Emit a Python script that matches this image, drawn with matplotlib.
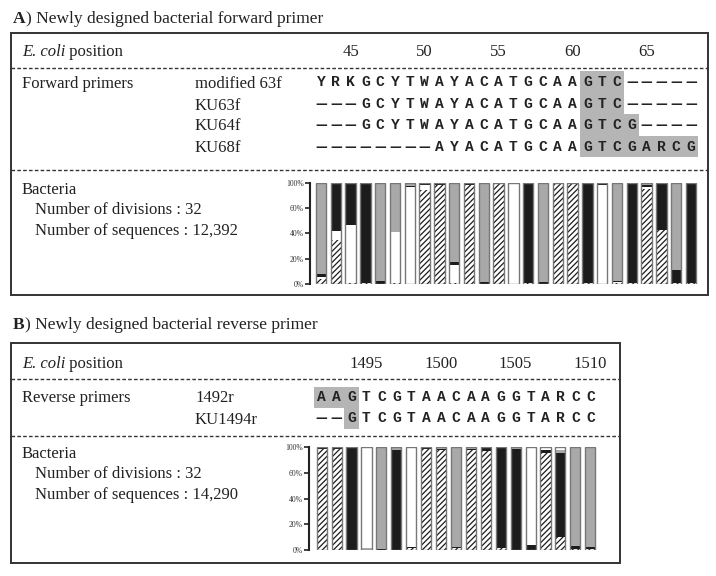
import matplotlib
matplotlib.use("Agg")
import matplotlib.pyplot as plt
from matplotlib import transforms
from matplotlib.patches import Rectangle

plt.rcParams["font.family"] = "Liberation Serif"
plt.rcParams["hatch.linewidth"] = 0.9

# ---- panel A data : forward primers ----
fwd_names = ["modified 63f", "KU63f", "KU64f", "KU68f"]
fwd_seqs = ["YRKGCYTWAYACATGCAAGTC-----",
            "---GCYTWAYACATGCAAGTC-----",
            "---GCYTWAYACATGCAAGTCG----",
            "--------AYACATGCAAGTCGARCG"]
fwd_shade = [(18, 20), (18, 20), (18, 21), (18, 25)]
fwd_first_pos = 43
fwd_ticks = [45, 50, 55, 60, 65]
fwd_divisions = 32
fwd_sequences = "12,392"

# base composition (% of sequences) at each position
fwd_A = [5, 43, 0.5, 1, 0, 0.5, 0, 93, 98, 0.5, 97.5, 0, 98.5, 0, 0.5, 0,
         99, 99.5, 0.5, 0, 0.5, 0.5, 93.5, 53, 1, 1]
fwd_T = [2, 9, 58, 0, 0, 51, 96, 5, 0, 18.5, 0, 0, 0, 99.5, 0, 0,
         0, 0, 0, 98, 1, 0, 2, 0, 0, 0]
fwd_G = [2.5, 46.5, 41, 99, 3, 0, 0.7, 2, 1.5, 2.5, 1.5, 2, 1.5, 0.5, 99.5, 1.5,
         0, 0, 99.5, 1.5, 1, 99.5, 2.5, 47, 13, 99]
fwd_C = [90.5, 1.5, 0.5, 0, 97, 48.5, 3.3, 0, 0.5, 78.5, 1, 98, 0, 0, 0, 98.5,
         1, 0.5, 0, 0.5, 97.5, 0, 2, 0, 86, 0]

# ---- panel B data : reverse primers ----
rev_names = ["1492r", "KU1494r"]
rev_seqs = ["AAGTCGTAACAAGGTARCC",
            "--GTCGTAACAAGGTARCC"]
rev_shade = [(0, 2), (2, 2)]
rev_first_pos = 1492
rev_ticks = [1495, 1500, 1505, 1510]
rev_divisions = 32
rev_sequences = "14,290"

rev_A = [98.5, 98, 0, 0, 0, 0, 1.5, 98, 97, 1.5, 97, 96.5, 1.5, 0, 0, 94.5, 13, 1, 1]
rev_G = [0.5, 1.5, 99, 0, 1, 97.5, 1.5, 1.5, 1, 1.5, 1.5, 3.5, 98.5, 98, 4.5, 3, 81.5, 2.5, 1.5]
rev_C = [1, 0.5, 1, 1.5, 98, 2.5, 0, 0.5, 1.5, 97, 1.5, 0, 0, 2, 0, 0, 3, 96.5, 96.5]
rev_T = [0, 0, 0, 98.5, 1, 0, 97, 0, 0.5, 0, 0, 0, 0, 0, 95.5, 2.5, 2.5, 0, 1]

pct_ticks = [0, 25, 50, 75, 100]
pct_labels = ["0%", "20%", "40%", "60%", "100%"]

# colours / styles per base
GRAY = "#a9a9a9"
BLACK = "#1c1c1c"
INK = "#222222"
base_style = {"A": ("white", "//////"), "T": ("white", None),
              "G": (BLACK, None), "C": (GRAY, None)}

W, H = 716, 576
fig = plt.figure(figsize=(W / 100, H / 100), dpi=100)
ax0 = fig.add_axes([0, 0, 1, 1])
ax0.set_xlim(0, W)
ax0.set_ylim(H, 0)
ax0.axis("off")


def pix_axes(left, top, right, bottom):
    return fig.add_axes([left / W, 1 - bottom / H, (right - left) / W, (bottom - top) / H])


def bar_panel(ax, stacks, x0, step, width):
    n = len(stacks[0][1])
    left, right = ax.get_position().x0 * W, ax.get_position().x1 * W
    ax.set_xlim((left - x0) / step, (right - x0) / step)
    ax.set_ylim(0, 100)
    xs = list(range(n))
    bottom = [0] * n
    for base, vals in stacks:
        face, hatch = base_style[base]
        ax.bar(xs, vals, width, bottom=bottom, color=face, edgecolor=BLACK,
               linewidth=0, hatch=hatch)
        bottom = [b + v for b, v in zip(bottom, vals)]
    ax.bar(xs, bottom, width, fill=False, edgecolor="#777777", linewidth=1.0)
    ax.patch.set_visible(False)
    for s in ["top", "right", "bottom"]:
        ax.spines[s].set_visible(False)
    ax.spines["left"].set_linewidth(1.5)
    ax.spines["left"].set_color(INK)
    ax.set_xticks([])
    ax.set_yticks(pct_ticks)
    ax.set_yticklabels(pct_labels)
    ax.tick_params(axis="y", length=3.5, width=1.2, color=INK, labelsize=5.5,
                   labelcolor="#333333", pad=1)


def seq_rows(trans, seqs, names, rows, shade, row_h):
    for (s, e), y in zip(shade, rows):
        ax0.add_patch(Rectangle((s - 0.5, y - row_h / 2), e - s + 1, row_h,
                                transform=trans, color="#b5b5b5", lw=0, zorder=1))
    for seq, name, y in zip(seqs, names, rows):
        ax0.text(195, y + 5.5, name, fontsize=12, color=INK, va="baseline")
        for i, ch in enumerate(seq):
            if ch == "-":
                ax0.text(i, y + 4.2, "\u2014", transform=trans, ha="center", va="baseline",
                         family="DejaVu Sans", fontsize=8.5, fontweight="bold",
                         color=INK, zorder=3)
            else:
                ax0.text(i, y + 4.2, ch, transform=trans, ha="center", va="baseline",
                         family="Liberation Mono", fontsize=10.5, fontweight="bold",
                         color=INK, zorder=3)


def header(title_letter, title_rest, y):
    t = ax0.text(13, y + 5.7, title_letter, fontsize=12.5, fontweight="bold",
                 color=INK, va="baseline")
    ax0.annotate(title_rest, xy=(1, 0), xycoords=t, va="bottom", fontsize=12.5, color=INK)


def panel_frame(top, bottom, right, dash_ys, pos_y, trans, ticks, first):
    ax0.add_patch(Rectangle((11, top), right - 11, bottom - top, fill=False,
                            edgecolor="#333333", lw=1.4))
    for dy in dash_ys:
        ax0.plot([11, right], [dy, dy], color="#333333", lw=1.0, ls=(0, (2.6, 1.6)))
    t = ax0.text(22, pos_y + 5.5, "E. coli", fontsize=12, style="italic", color=INK,
                 va="baseline")
    ax0.annotate(" position", xy=(1, 0), xycoords=t, va="bottom", fontsize=12, color=INK)
    for p in ticks:
        ax0.text(p - first, pos_y + 5.5, str(p), transform=trans, ha="center",
                 va="baseline", fontsize=12, color=INK)


def bacteria_block(y0, divisions, sequences):
    ax0.text(22, y0 + 5.5, "Bacteria", fontsize=12, color=INK, va="baseline")
    ax0.text(35, y0 + 26, f"Number of divisions : {divisions}", fontsize=12,
             color=INK, va="baseline")
    ax0.text(35, y0 + 47, f"Number of sequences : {sequences}", fontsize=12,
             color=INK, va="baseline")


# ---------------- panel A ----------------
header("A", ") Newly designed bacterial forward primer", 17)
axA = pix_axes(310, 182.5, 700, 284)
bar_panel(axA, [("A", fwd_A), ("T", fwd_T), ("G", fwd_G), ("C", fwd_C)],
          x0=321, step=14.8, width=0.7)
transA = transforms.blended_transform_factory(axA.transData, ax0.transData)
panel_frame(33, 295, 708, [68, 170], 50, transA, fwd_ticks, fwd_first_pos)
seq_rows(transA, fwd_seqs, fwd_names, [82, 104, 125, 146.5], fwd_shade, 21.5)
ax0.text(22, 82 + 5.5, "Forward primers", fontsize=12, color=INK, va="baseline")
bacteria_block(188, fwd_divisions, fwd_sequences)

# ---------------- panel B ----------------
header("B", ") Newly designed bacterial reverse primer", 323)
axB = pix_axes(309, 447, 600, 550)
bar_panel(axB, [("A", rev_A), ("G", rev_G), ("C", rev_C), ("T", rev_T)],
          x0=321.7, step=14.92, width=0.68)
transB = transforms.blended_transform_factory(axB.transData, ax0.transData)
panel_frame(343, 563, 620, [379, 436], 362, transB, rev_ticks, rev_first_pos)
seq_rows(transB, rev_seqs, rev_names, [397, 418], rev_shade, 21)
ax0.text(22, 397 + 5.5, "Reverse primers", fontsize=12, color=INK, va="baseline")
bacteria_block(452, rev_divisions, rev_sequences)

fig.savefig("out.png", dpi=100, facecolor="white")
